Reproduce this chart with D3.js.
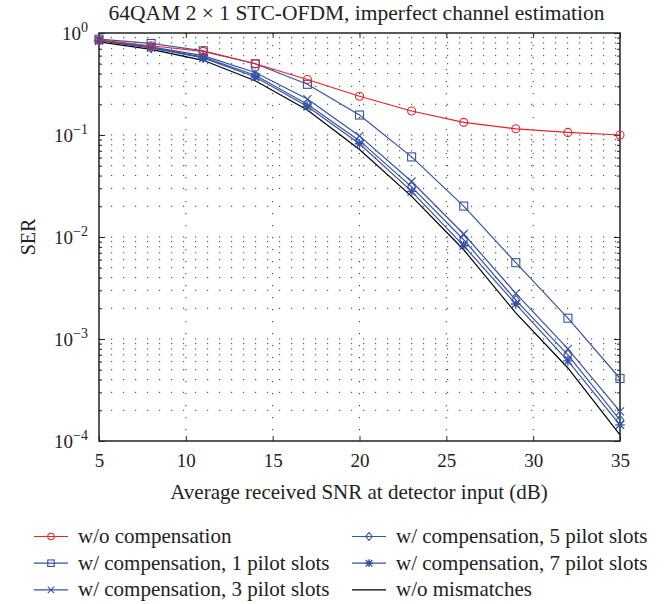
<!DOCTYPE html>
<html><head><meta charset="utf-8">
<script src="https://cdn.jsdelivr.net/npm/d3@7"></script>
<style>body{margin:0;background:#fff}svg{display:block}text{font-family:"Liberation Serif","DejaVu Serif",serif;fill:#222}</style>
</head><body>
<svg id="c" width="667" height="604" font-family="Liberation Serif, serif"></svg>
<script>
const snr = [5, 8, 11, 14, 17, 20, 23, 26, 29, 32, 35];
const serNoComp = [0.85, 0.75, 0.66, 0.50, 0.35, 0.24, 0.172, 0.133, 0.115, 0.106, 0.100];
const serPilot1 = [0.87, 0.79, 0.67, 0.50, 0.314, 0.157, 0.061, 0.0201, 0.0056, 0.0016, 0.00041];
const serPilot3 = [0.85, 0.73, 0.60, 0.41, 0.225, 0.098, 0.035, 0.0107, 0.0028, 0.00080, 0.000195];
const serPilot5 = [0.845, 0.72, 0.58, 0.385, 0.20, 0.088, 0.031, 0.0094, 0.0024, 0.00070, 0.000160];
const serPilot7 = [0.84, 0.715, 0.57, 0.37, 0.19, 0.082, 0.028, 0.0082, 0.0022, 0.00061, 0.000144];
const serIdeal = [0.82, 0.69, 0.54, 0.34, 0.176, 0.072, 0.025, 0.0075, 0.0018, 0.00052, 0.000115];
const xTicks = [5, 10, 15, 20, 25, 30, 35];
const yTickExps = [0, -1, -2, -3, -4];
const labels = ["w/o compensation", "w/ compensation, 1 pilot slots", "w/ compensation, 3 pilot slots",
  "w/ compensation, 5 pilot slots", "w/ compensation, 7 pilot slots", "w/o mismatches"];

const RED = "#e8232a", BLUE = "#3553a5", BLACK = "#000";
const series = [
  {name: labels[0], vals: serNoComp, color: RED, marker: "circle"},
  {name: labels[1], vals: serPilot1, color: BLUE, marker: "square"},
  {name: labels[2], vals: serPilot3, color: BLUE, marker: "x"},
  {name: labels[3], vals: serPilot5, color: BLUE, marker: "diamond"},
  {name: labels[4], vals: serPilot7, color: BLUE, marker: "star"},
  {name: labels[5], vals: serIdeal, color: BLACK, marker: null}
];

const svg = d3.select("#c");
const L = 99, R = 620, T = 33, B = 441;
const x = d3.scaleLinear().domain([5, 35]).range([L, R]);
const y = d3.scaleLog().domain([1e-4, 1]).range([B, T]);

// grid
const g = svg.append("g");
const minorY = [];
for (let e = -4; e < 0; e++) for (let m = 1; m <= 9; m++) minorY.push(m * Math.pow(10, e));
g.selectAll("line.hg").data(minorY.filter(v => v > 1e-4)).join("line")
  .attr("x1", L).attr("x2", R).attr("y1", d => y(d)).attr("y2", d => y(d))
  .attr("stroke", "#333").attr("stroke-width", 1).attr("stroke-dasharray", "1.2,10.8");
g.selectAll("line.vg").data(xTicks.slice(1, -1)).join("line")
  .attr("x1", d => x(d)).attr("x2", d => x(d)).attr("y1", T).attr("y2", B)
  .attr("stroke", "#333").attr("stroke-width", 1).attr("stroke-dasharray", "1.2,10.8");

// axes box and ticks
const ax = svg.append("g");
ax.append("rect").attr("x", L).attr("y", T).attr("width", R - L).attr("height", B - T)
  .attr("fill", "none").attr("stroke", "#222").attr("stroke-width", 1.5);
ax.append("g").attr("transform", `translate(0,${B})`)
  .call(d3.axisBottom(x).tickValues(xTicks).tickSize(-5).tickFormat(d3.format("d")).tickPadding(0))
  .call(s => { s.attr("font-family", "Liberation Serif, serif"); s.select(".domain").remove(); s.selectAll("line").attr("stroke", "#222");
    s.selectAll("text").attr("dy", null).attr("y", 26).attr("font-size", 19).attr("fill", "#222"); });
ax.append("g").attr("transform", `translate(0,${T})`)
  .call(d3.axisTop(x).tickValues(xTicks).tickSize(-5).tickFormat(""))
  .call(s => { s.select(".domain").remove(); s.selectAll("line").attr("stroke", "#222"); });
const yMajor = yTickExps.map(e => Math.pow(10, e));
ax.append("g").attr("transform", `translate(${L},0)`)
  .call(d3.axisLeft(y).tickValues(minorY.filter(v => v > 1e-4)).tickSize(-3).tickFormat(""))
  .call(s => { s.select(".domain").remove(); s.selectAll("line").attr("stroke", "#222"); });
ax.append("g").attr("transform", `translate(${R},0)`)
  .call(d3.axisRight(y).tickValues(minorY.filter(v => v > 1e-4)).tickSize(-3).tickFormat(""))
  .call(s => { s.select(".domain").remove(); s.selectAll("line").attr("stroke", "#222"); });
ax.append("g").attr("transform", `translate(${L},0)`)
  .call(d3.axisLeft(y).tickValues(yMajor).tickSize(-6).tickFormat(""))
  .call(s => { s.select(".domain").remove(); s.selectAll("line").attr("stroke", "#222"); });
ax.append("g").attr("transform", `translate(${R},0)`)
  .call(d3.axisRight(y).tickValues(yMajor).tickSize(-6).tickFormat(""))
  .call(s => { s.select(".domain").remove(); s.selectAll("line").attr("stroke", "#222"); });

// y tick labels 10^e
yTickExps.forEach(e => {
  const t = svg.append("text").attr("x", 88).attr("y", y(Math.pow(10, e)) + 6.5)
    .attr("text-anchor", "end").attr("font-size", 19);
  t.append("tspan").text("10");
  t.append("tspan").attr("dy", -8).attr("font-size", 14).text(e === 0 ? "0" : "\u2212" + (-e));
});

// titles
svg.append("text").attr("x", 356.5).attr("y", 19.5).attr("text-anchor", "middle").attr("font-size", 21.5)
  .text("64QAM 2 \u00d7 1 STC-OFDM, imperfect channel estimation");
svg.append("text").attr("x", 359).attr("y", 499).attr("text-anchor", "middle").attr("font-size", 21)
  .text("Average received SNR at detector input (dB)");
svg.append("text").attr("transform", "translate(35,237) rotate(-90)").attr("text-anchor", "middle").attr("font-size", 20)
  .text("SER");

// markers
function drawMarker(sel, type, color, s) {
  const h = s / 2;
  if (type === "circle") sel.append("circle").attr("r", h).attr("fill", "none").attr("stroke", color).attr("stroke-width", 1.1);
  else if (type === "square") sel.append("rect").attr("x", -h).attr("y", -h).attr("width", s).attr("height", s).attr("fill", "none").attr("stroke", color).attr("stroke-width", 1.1);
  else if (type === "diamond") sel.append("path").attr("d", `M0,${-h * 1.2}L${h},0L0,${h * 1.2}L${-h},0Z`).attr("fill", "none").attr("stroke", color).attr("stroke-width", 1.1);
  else if (type === "x") sel.append("path").attr("d", `M${-h},${-h}L${h},${h}M${-h},${h}L${h},${-h}`).attr("stroke", color).attr("stroke-width", 1.1);
  else if (type === "star") sel.append("path").attr("d", `M${-h},${-h}L${h},${h}M${-h},${h}L${h},${-h}M0,${-h * 1.2}L0,${h * 1.2}M${-h * 1.2},0L${h * 1.2},0`).attr("stroke", color).attr("stroke-width", 1.4);
}

const line = d3.line().x(d => x(d[0])).y(d => y(d[1]));
const plot = svg.append("g");
series.slice().reverse().forEach(sr => {
  const pts = snr.map((v, i) => [v, sr.vals[i]]);
  plot.append("path").attr("d", line(pts)).attr("fill", "none").attr("stroke", sr.color).attr("stroke-width", 1.2);
  if (sr.marker) pts.forEach(p => {
    const m = plot.append("g").attr("transform", `translate(${x(p[0])},${y(p[1])})`);
    drawMarker(m, sr.marker, sr.color, 8);
  });
});

// legend
const leg = svg.append("g");
series.forEach((sr, i) => {
  const col = Math.floor(i / 3), row = i % 3;
  const lx = col === 0 ? 34 : 352, ly = 536.5 + row * 26.7;
  leg.append("line").attr("x1", lx).attr("x2", lx + 34).attr("y1", ly).attr("y2", ly).attr("stroke", sr.color).attr("stroke-width", 1.2);
  if (sr.marker) drawMarker(leg.append("g").attr("transform", `translate(${lx + 17},${ly})`), sr.marker, sr.color, 6.5);
  leg.append("text").attr("x", lx + 44).attr("y", ly + 6.5).attr("font-size", 21).text(sr.name);
});
</script>
</body></html>
